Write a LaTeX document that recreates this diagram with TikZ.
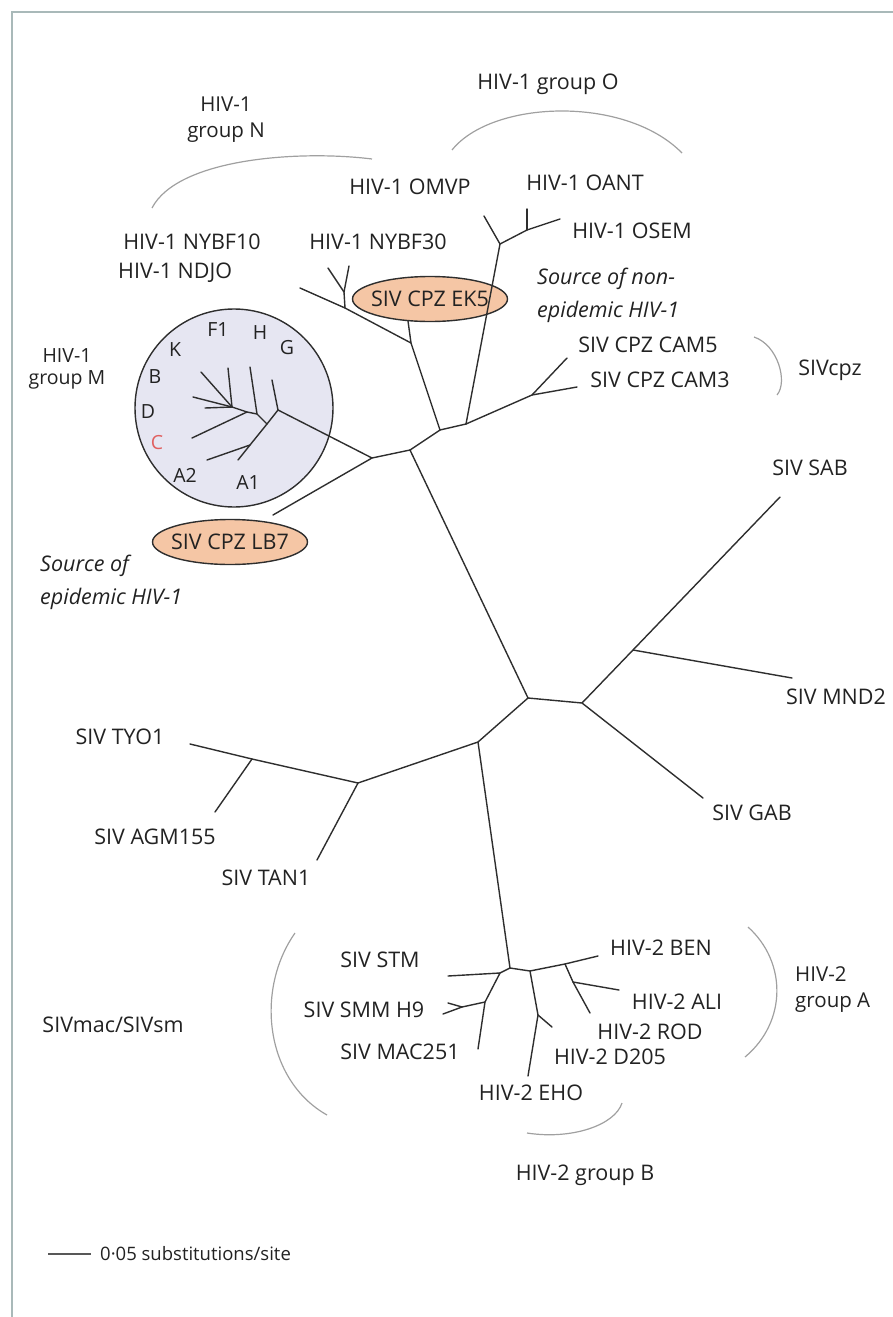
\documentclass[tikz,border=0pt]{standalone}
\usepackage{fontspec}
\setmainfont{Open Sans}
\usetikzlibrary{shapes.geometric}
\definecolor{treecol}{HTML}{2E2E2E}
\definecolor{txt}{HTML}{222222}
\definecolor{arccol}{HTML}{A0A0A0}
\definecolor{framecol}{HTML}{A9B9B9}
\definecolor{peach}{HTML}{F5C6A5}
\definecolor{lav}{HTML}{E6E6F2}
\definecolor{redc}{HTML}{E06060}
\begin{document}
\begin{tikzpicture}[x=1pt,y=-1pt,
  br/.style={draw=treecol, line width=1.4pt, line cap=round},
  arcl/.style={draw=arccol, line width=1.2pt},
  lab/.style={font=\fontsize{21.5}{25}\selectfont, text=txt, inner sep=0pt},
  itl/.style={font=\fontsize{21.5}{33}\selectfont\itshape, text=txt, inner sep=0pt, align=left},
  sml/.style={font=\fontsize{19.5}{22}\selectfont, text=txt, inner sep=0pt},
  grp/.style={font=\fontsize{20.5}{26}\selectfont, text=txt, inner sep=0pt, align=center}]
\useasboundingbox (0,0) rectangle (893,1317);
% frame
\draw[framecol, line width=1.5pt] (12,1317) -- (12,12) -- (893,12);

% background shapes
\draw[treecol, line width=1.4pt, fill=lav] (234,408) circle [radius=99pt];
\draw[treecol, line width=1.4pt, fill=peach] (430,299) ellipse [x radius=77.5pt, y radius=22.5pt];
\draw[treecol, line width=1.4pt, fill=peach] (230,542) ellipse [x radius=77.5pt, y radius=22.5pt];
\node[lab] (ek5) at (430,299) {SIV CPZ EK5};
\node[lab] (lb7) at (230,542) {SIV CPZ LB7};

% tree coordinates
\coordinate (c1) at (410,450);
\coordinate (c2) at (440,430);
\coordinate (c3) at (466,424);
\coordinate (ek) at (411,343);
\coordinate (ekt) at (408,321);
\coordinate (n30j) at (345,308);
\coordinate (nyb) at (344,292);
\coordinate (n30a) at (328,268);
\coordinate (n30b) at (349,266);
\coordinate (ndjo) at (300,288);
\coordinate (o1) at (500,244);
\coordinate (omvp) at (484,216);
\coordinate (o2) at (527,230);
\coordinate (oant) at (527,209);
\coordinate (osem) at (560,219);
\coordinate (cam) at (532,395);
\coordinate (cam5) at (567,358);
\coordinate (cam3) at (577,387);
\coordinate (m0) at (372,458);
\coordinate (lb7e) at (273,515);
\coordinate (p0) at (278,410);
\coordinate (pg) at (272,380);
\coordinate (p1) at (267,424);
\coordinate (pa) at (250,445);
\coordinate (pa1) at (238,460);
\coordinate (pa2) at (207,460);
\coordinate (p2) at (257,414);
\coordinate (ph) at (250,367);
\coordinate (pc0) at (247,412);
\coordinate (pc) at (192,438);
\coordinate (p3) at (232,407);
\coordinate (pk) at (201,372);
\coordinate (pf) at (228,368);
\coordinate (pb) at (193,397);
\coordinate (pd) at (205,408);
\coordinate (hub1) at (528,698);
\coordinate (hub2) at (582,703);
\coordinate (mn) at (633,650);
\coordinate (sab) at (780,497);
\coordinate (mnd) at (792,678);
\coordinate (gab) at (703,798);
\coordinate (s0) at (478,742);
\coordinate (tan) at (358,783);
\coordinate (tyo) at (252,759);
\coordinate (tyoe) at (190,744);
\coordinate (agm) at (215,812);
\coordinate (tane) at (317,860);
\coordinate (h2) at (510,968);
\coordinate (stmn) at (500,973);
\coordinate (stm) at (448,976);
\coordinate (smmn) at (485,1002);
\coordinate (mac) at (478,1049);
\coordinate (smmf) at (462,1007);
\coordinate (smma) at (443,1014);
\coordinate (smmb) at (448,1003);
\coordinate (bn1) at (530,971);
\coordinate (bn2) at (565,964);
\coordinate (ben) at (598,956);
\coordinate (alin) at (573,982);
\coordinate (ali) at (619,990);
\coordinate (rod) at (590,1013);
\coordinate (dn) at (538,1015);
\coordinate (eho) at (528,1076);
\coordinate (d205) at (552,1027);

% branches
\draw[br] (hub1) -- (c1) -- (c2) -- (c3);
\draw[br] (c2) -- (ek) -- (ekt);
\draw[br] (ek) -- (n30j) -- (ndjo);
\draw[br] (n30j) -- (nyb) -- (n30a);
\draw[br] (nyb) -- (n30b);
\draw[br] (c3) -- (o1) -- (omvp);
\draw[br] (o1) -- (o2) -- (osem);
\draw[br] (o2) -- (oant);
\draw[br] (c3) -- (cam) -- (cam5);
\draw[br] (cam) -- (cam3);
\draw[br] (c1) -- (m0) -- (p0) -- (pg);
\draw[br] (m0) -- (lb7e);
\draw[br] (p0) -- (p1) -- (pa) -- (pa1);
\draw[br] (pa) -- (pa2);
\draw[br] (p1) -- (p2) -- (ph);
\draw[br] (p2) -- (pc0) -- (p3);
\draw[br] (pc0) -- (pc);
\draw[br] (p3) -- (pk);
\draw[br] (p3) -- (pf);
\draw[br] (p3) -- (pb);
\draw[br] (p3) -- (pd);
\draw[br] (hub1) -- (hub2) -- (mn) -- (sab);
\draw[br] (mn) -- (mnd);
\draw[br] (hub2) -- (gab);
\draw[br] (hub1) -- (s0) -- (tan) -- (tyo) -- (tyoe);
\draw[br] (tyo) -- (agm);
\draw[br] (tan) -- (tane);
\draw[br] (s0) -- (h2) -- (stmn) -- (stm);
\draw[br] (stmn) -- (smmn) -- (mac);
\draw[br] (smmn) -- (smmf) -- (smma);
\draw[br] (smmf) -- (smmb);
\draw[br] (h2) -- (bn1) -- (bn2) -- (ben);
\draw[br] (bn2) -- (alin) -- (rod);
\draw[br] (alin) -- (ali);
\draw[br] (bn1) -- (dn) -- (eho);
\draw[br] (dn) -- (d205);

% group arcs
\draw[arcl] (152,208) .. controls (178,158) and (300,150) .. (372,159);
\draw[arcl] (452,150) .. controls (492,100) and (625,95) .. (682,153);
\draw[arcl] (754,337) .. controls (778,345) and (788,382) .. (777,395);
\draw[arcl] (748,927) .. controls (787,962) and (787,1022) .. (745,1057);
\draw[arcl] (527,1133) .. controls (572,1140) and (615,1125) .. (622,1103);
\draw[arcl] (295,933) .. controls (255,990) and (265,1080) .. (327,1115);

% labels
\node[lab] (lgo) at (548,84) {HIV-1 group O};
\node[grp] (lgn) at (226,120) {HIV-1\\group N};
\node[lab] (lomvp) at (410,187) {HIV-1 OMVP};
\node[lab] (loant) at (585,183) {HIV-1 OANT};
\node[lab] (losem) at (632,231) {HIV-1 OSEM};
\node[lab] (lnybf10) at (192,242) {HIV-1 NYBF10};
\node[lab, anchor=west] (lndjo) at (118,273) {HIV-1 NDJO};
\node[lab] (lnybf30) at (378,242) {HIV-1 NYBF30};
\node[itl, anchor=north west] (lnonepi) at (537,268) {Source of non-\\epidemic HIV-1};
\node[lab] (lcam5) at (648,345) {SIV CPZ CAM5};
\node[lab] (lcam3) at (660,380) {SIV CPZ CAM3};
\node[lab] (lsivcpz) at (830,370) {SIVcpz};
\node[lab] (lsab) at (810,468) {SIV SAB};
\node[lab] (lmnd) at (836,697) {SIV MND2};
\node[lab] (lgab) at (752,813) {SIV GAB};
\node[lab] (ltyo) at (120,737) {SIV TYO1};
\node[lab] (lagm) at (155,837) {SIV AGM155};
\node[lab] (ltan) at (266,878) {SIV TAN1};
\node[lab] (lstm) at (380,960) {SIV STM};
\node[lab] (lsmm) at (364,1010) {SIV SMM H9};
\node[lab] (lmac) at (400,1052) {SIV MAC251};
\node[lab] (lsivmac) at (113,1025) {SIVmac/SIVsm};
\node[lab] (lben) at (661,948) {HIV-2 BEN};
\node[lab] (lali) at (677,1002) {HIV-2 ALI};
\node[lab] (lrod) at (650,1032) {HIV-2 ROD};
\node[lab] (ld205) at (610,1057) {HIV-2 D205};
\node[lab] (leho) at (531,1093) {HIV-2 EHO};
\node[lab] (lgb) at (585,1175) {HIV-2 group B};
\node[grp, align=left, anchor=west] (lga) at (795,990) {HIV-2\\group A};
\node[sml, align=center] (lgm) at (67,369) {HIV-1\\group M};
\node[itl, anchor=north west] (lepi) at (40,555) {Source of\\epidemic HIV-1};
% subtypes in circle
\node[sml] (sF1) at (218,330) {F1};
\node[sml] (sH) at (260,333) {H};
\node[sml] (sG) at (287,348) {G};
\node[sml] (sK) at (175,350) {K};
\node[sml] (sB) at (155,377) {B};
\node[sml] (sD) at (148,412) {D};
\node[sml, text=redc] (sC) at (157,443) {C};
\node[sml] (sA2) at (185,475) {A2};
\node[sml] (sA1) at (248,483) {A1};
% scale bar
\coordinate (sb1) at (48,1254);
\coordinate (sb2) at (91,1254);
\draw[draw=treecol!80, line width=1.6pt] (sb1) -- (sb2);
\node[font=\fontsize{18.5}{22}\selectfont, text=txt, inner sep=0pt, anchor=west] (lscale) at (100,1254) {0·05 substitutions/site};
\end{tikzpicture}
\end{document}
